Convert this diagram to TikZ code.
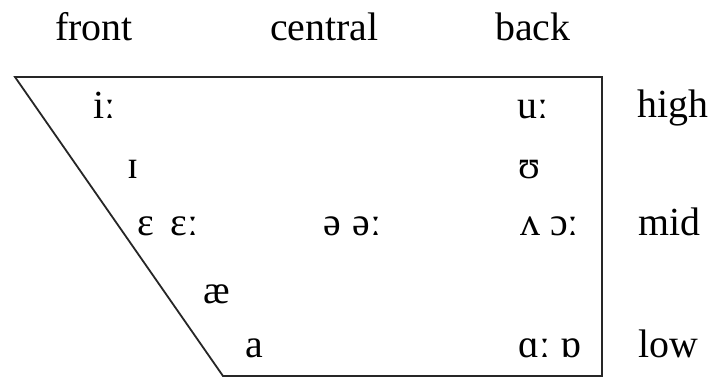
\documentclass[tikz,border=0pt]{standalone}
\usepackage{fontspec}
\setmainfont{Liberation Serif}
\begin{document}
\begin{tikzpicture}[x=1bp,y=-1bp,
  lab/.style={anchor=base west,inner sep=0pt,font=\fontsize{40}{40}\selectfont},
  edge/.style={line width=1.8bp,line join=miter,draw=black!85}]
\useasboundingbox (0,0) rectangle (712,378);
\coordinate (tl) at (15,77);
\coordinate (tr) at (602,77);
\coordinate (br) at (602,376);
\coordinate (bl) at (223,376);
\draw[edge] (tl) -- (tr) -- (br) -- (bl) -- cycle;
% column headers
\node[lab] (front) at (55,40) {front};
\node[lab] (central) at (270,40) {central};
\node[lab] (back) at (495,40) {back};
% row labels
\node[lab] (high) at (637,117) {high};
\node[lab] (mid) at (638,235) {mid};
\node[lab] (low) at (638,357) {low};
% vowels
\node[lab] (ii) at (93,118) {iː};
\node[lab] (uu) at (517,118) {uː};
\node[lab] (ih) at (127,178) {ɪ};
\node[lab] (uh) at (518,178) {ʊ};
\node[lab] (eh) at (137,235) {ɛ\hspace{0.42em}ɛː};
\node[lab] (schwa) at (323,235) {ə\hspace{0.3em}əː};
\node[lab] (wedge) at (520,235) {ʌ ɔː};
\node[lab] (ae) at (203,303) {æ};
\node[lab] (a) at (245,357) {a};
\node[lab] (aa) at (518,357) {ɑː ɒ};
\end{tikzpicture}
\end{document}
